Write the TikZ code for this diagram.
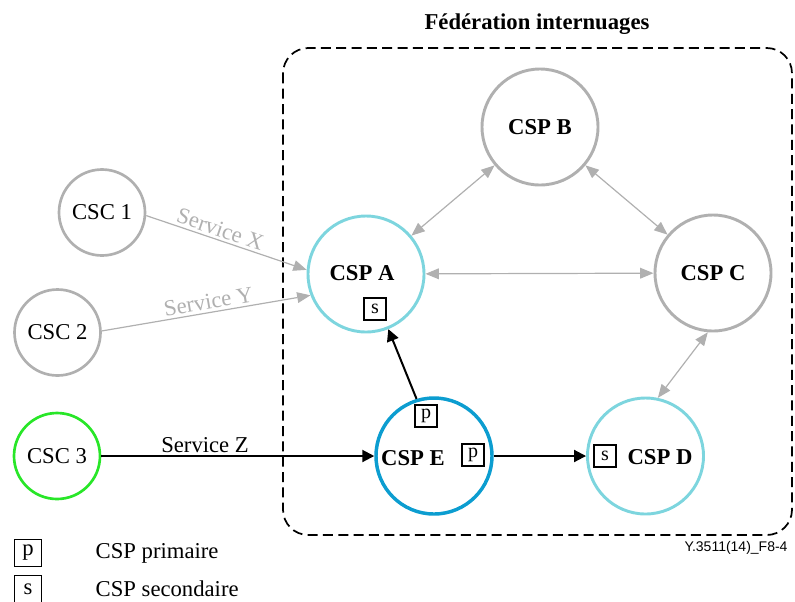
\documentclass[tikz,border=0pt]{standalone}
\usepackage{fontspec}
\setmainfont{Liberation Serif}
\newfontfamily\refsans{Liberation Sans}
\usetikzlibrary{arrows.meta}
\definecolor{peergray}{RGB}{176,176,176}
\definecolor{cspcyan}{RGB}{125,213,222}
\definecolor{cspblue}{RGB}{12,157,208}
\definecolor{cscgreen}{RGB}{40,230,40}
\begin{document}
\begin{tikzpicture}[x=0.75pt,y=-0.75pt,
  font=\fontsize{17}{20}\selectfont,
  csp/.style={circle, draw, line width=2.2pt, minimum size=87pt, inner sep=0pt},
  csc/.style={circle, draw, line width=2pt, minimum size=64.5pt, inner sep=0pt},
  cname/.style={font=\fontsize{17}{20}\selectfont\bfseries, inner sep=1pt},
  tagbox/.style={draw, line width=0.8pt, minimum size=16.5pt, inner sep=0pt,
                 font=\fontsize{15}{15}\selectfont},
  legbox/.style={draw, line width=0.8pt, minimum size=20pt, inner sep=0pt},
  peer/.style={peergray, line width=0.9pt,
               {Triangle[length=10pt,width=8pt]}-{Triangle[length=10pt,width=8pt]}},
  svc/.style={peergray, line width=0.9pt, -{Triangle[length=10pt,width=8pt]}},
  flow/.style={line width=1.5pt, -{Triangle[length=9pt,width=9pt]}},
  svclabel/.style={font=\fontsize{17}{20}\selectfont, inner sep=2pt}]
\useasboundingbox (0,0) rectangle (795,601);

% federation frame and its title
\draw[line width=1.3pt, dash pattern=on 7.5pt off 4pt, rounded corners=19pt]
  (283,48) rectangle (792,535);
\node[font=\fontsize{17}{20}\selectfont\bfseries] (title) at (537,24) {Fédération internuages};

% providers
\node[csp, draw=peergray] (b) at (540,127) {};
\node[csp, draw=cspcyan]  (a) at (366,274) {};
\node[csp, draw=peergray] (c) at (713,273) {};
\node[csp, draw=cspcyan]  (d) at (645.5,456) {};
\node[csp, draw=cspblue, line width=2.6pt] (e) at (434,456) {};

\node[cname] (bl) at (540,127) {CSP B};
\node[cname] (al) at (362,273) {CSP A};
\node[cname] (cl) at (713,273) {CSP C};
\node[cname] (dl) at (660,457) {CSP D};
\node[cname] (el) at (413,458) {CSP E};

\node[tagbox] (as) at (375,309) {s};
\node[tagbox] (ep1) at (426,416) {p};
\node[tagbox] (ep2) at (473,455) {p};
\node[tagbox] (ds) at (605,456) {s};

% customers
\node[csc, draw=peergray] (c1) at (102,212.5) {CSC 1};
\node[csc, draw=peergray] (c2) at (57.5,332.5) {CSC 2};
\node[csc, draw=cscgreen] (c3) at (57,456) {CSC 3};

% peer links inside the federation
\draw[peer] (a) -- (b);
\draw[peer] (b) -- (c);
\draw[peer] (a) -- (c);
\draw[peer] (c.265) -- (d.78);

% service requests
\draw[svc] (c1.-4) -- node[svclabel, sloped, above, pos=0.44, peergray] {Service X} (a.176);
\draw[svc] (c2.2) -- node[svclabel, sloped, above, pos=0.52, peergray] {Service Y} (a.201);
\draw[flow] (c3) -- node[svclabel, above, pos=0.38] {Service Z} (e);
\draw[flow] (e) -- (d);
\draw[flow] (e.107) -- (a);

% legend
\node[legbox] (lp) at (28,553) {p};
\node[legbox] (ls) at (28,589) {s};
\node[anchor=west] (lpt) at (91,553) {CSP primaire};
\node[anchor=west] (lst) at (91,589) {CSP secondaire};

\node[font=\refsans\fontsize{10.5}{12}\selectfont] (ref) at (736,548) {Y.3511(14)\_F8-4};
\end{tikzpicture}
\end{document}
